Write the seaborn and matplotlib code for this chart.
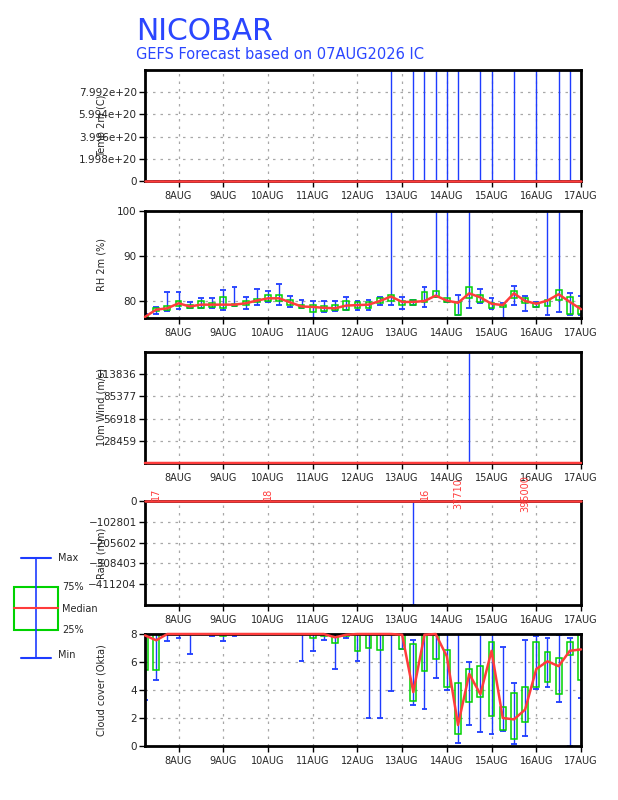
import numpy as np
import pandas as pd
import seaborn as sns
import matplotlib
matplotlib.use("Agg")
import matplotlib.pyplot as plt
import matplotlib.dates as mdates

sns.set_theme(style="white")
plt.rcParams['font.family'] = ['DejaVu Sans']

# 6-hourly forecast steps, 07AUG 06Z .. 17AUG 00Z
times = pd.date_range("2026-08-07 06:00", "2026-08-17 00:00", freq="6h")
day_ticks = pd.date_range("2026-08-08", "2026-08-17", freq="D")
day_labels = ["8AUG", "9AUG", "10AUG", "11AUG", "12AUG",
              "13AUG", "14AUG", "15AUG", "16AUG", "17AUG"]

# Temp 2m (C) -- a few members carry huge junk values
t2m_min = [26.1, 25.9, 26.6, 27.0, 26.4, 26.0, 26.7, 27.1, 26.5, 26.1, 26.8, 27.2, 26.6, 26.2,
           26.8, 27.1, 26.5, 26.1, 26.7, 27.0, 26.4, 26.0, 26.6, 26.9, 26.3, 25.9, 26.4, 26.7,
           26.1, 25.8, 26.2, 26.6, 26.0, 25.7, 26.3, 26.6, 26.1, 25.8, 26.3, 26.6]
t2m_med = [27.2, 27.0, 28.1, 28.4, 27.6, 27.1, 28.0, 28.5, 27.7, 27.2, 28.1, 28.6, 27.8, 27.3,
           28.0, 28.4, 27.7, 27.3, 28.0, 28.3, 27.6, 27.2, 27.9, 28.2, 27.5, 27.1, 27.6, 27.9,
           27.3, 27.0, 27.4, 27.8, 27.2, 26.9, 27.5, 27.9, 27.3, 27.0, 27.6, 27.9]
t2m_max = [28.3, 28.1, 29.2, 29.6, 28.7, 28.2, 29.1, 29.7, 28.8, 28.3, 29.2, 29.8, 28.9, 28.4,
           29.1, 29.5, 28.8, 28.4, 29.1, 29.4, 28.7, 28.3, 9.99e20, 29.3, 9.99e20, 9.99e20,
           9.99e20, 9.99e20, 9.99e20, 28.1, 9.99e20, 9.99e20, 28.3, 9.99e20, 28.6, 9.99e20,
           28.4, 9.99e20, 9.99e20, 29.0]

# RH 2m (%)
rh_min = [76.35, 77.3, 78.0, 78.3, 78.6, 78.5, 78.6, 78.1, 78.9, 78.3, 79.2, 79.9, 79.2, 78.8,
          78.5, 76.3, 77.6, 78.0, 78.1, 78.2, 78.1, 79.2, 79.3, 78.3, 79.3, 78.8, 80.9, 79.8,
          77.1, 78.5, 79.6, 78.3, 76.3, 79.2, 78.0, 78.7, 77.0, 77.7, 77.1, 77.0]
rh_q1 = [76.4, 77.8, 78.1, 78.9, 78.6, 78.5, 78.8, 78.6, 78.9, 79.2, 79.8, 80.1, 80.1, 79.3,
         78.5, 77.7, 78.0, 78.2, 78.2, 78.5, 78.5, 79.6, 80.2, 79.2, 79.3, 79.8, 81.1, 79.8,
         77.1, 80.7, 79.8, 78.5, 78.7, 80.8, 79.6, 78.7, 79.1, 80.4, 77.3, 77.2]
rh_med = [76.6, 78.2, 78.5, 79.6, 78.9, 79.3, 79.3, 79.3, 79.3, 79.6, 80.2, 80.7, 80.7, 79.8,
          78.9, 78.8, 78.6, 78.5, 79.1, 79.2, 79.3, 80.1, 81.1, 79.9, 79.9, 80.1, 81.3, 80.2,
          79.7, 81.8, 80.9, 79.5, 79.2, 81.8, 80.1, 79.5, 80.2, 81.6, 79.9, 78.3]
rh_q3 = [77.0, 78.5, 79.1, 80.1, 79.2, 80.0, 79.6, 81.0, 79.4, 80.1, 80.5, 81.4, 81.4, 80.3,
         79.3, 79.3, 79.1, 79.3, 80.0, 79.8, 79.8, 80.7, 81.5, 80.2, 80.3, 82.0, 82.3, 80.7,
         79.9, 83.3, 81.4, 79.7, 79.3, 82.3, 80.7, 79.6, 80.4, 82.6, 81.0, 79.1]
rh_max = [77.2, 78.7, 82.0, 82.2, 79.8, 80.7, 80.7, 82.5, 83.1, 80.9, 82.8, 82.4, 83.9, 81.2,
          80.3, 80.1, 80.1, 80.0, 81.1, 80.2, 80.4, 81.1, 100.0, 81.0, 80.4, 83.1, 100.0, 100.0,
          81.4, 100.0, 82.7, 80.7, 79.6, 83.4, 81.2, 79.9, 100.0, 100.0, 81.8, 81.3]

# 10m Wind (m/s)
wind_min = [2.1, 2.4, 2.0, 1.8, 2.2, 2.5, 2.1, 1.9, 2.3, 2.6, 2.2, 2.0, 2.4, 2.7, 2.3, 2.1,
            2.5, 2.8, 2.4, 2.2, 2.6, 2.9, 2.5, 2.3, 2.7, 3.0, 2.6, 2.4, 2.8, 3.1, 2.7, 2.5,
            2.9, 3.2, 2.8, 2.6, 3.0, 3.3, 2.9, 2.7]
wind_med = [4.6, 4.9, 4.4, 4.2, 4.7, 5.0, 4.5, 4.3, 4.8, 5.1, 4.6, 4.4, 4.9, 5.2, 4.7, 4.5,
            5.0, 5.3, 4.8, 4.6, 5.1, 5.4, 4.9, 4.7, 5.2, 5.5, 5.0, 4.8, 5.3, 5.6, 5.1, 4.9,
            5.4, 5.7, 5.2, 5.0, 5.5, 5.8, 5.3, 5.1]
wind_max = [7.4, 7.8, 7.1, 6.9, 7.5, 7.9, 7.2, 7.0, 7.6, 8.0, 7.3, 7.1, 7.7, 8.1, 7.4, 7.2,
            7.8, 8.2, 7.5, 7.3, 7.9, 8.3, 7.6, 7.4, 8.0, 8.4, 7.7, 7.5, 8.1, 142295.0, 7.8, 7.6,
            8.2, 8.6, 7.9, 7.7, 8.3, 8.7, 8.0, 7.8]

# Rain (mm)
rain_min = [0.0, 0.0, 0.0, 0.0, 0.0, 0.0, 0.0, 0.0, 0.0, 0.0, 0.0, 0.0, 0.0, 0.0, 0.0, 0.0,
            0.0, 0.0, 0.0, 0.0, 0.0, 0.0, 0.0, 0.0, -514005.0, 0.0, 0.0, 0.0, 0.0, 0.0, 0.0, 0.0,
            0.0, 0.0, 0.0, 0.0, 0.0, 0.0, 0.0, 0.0]
rain_med = [0.4, 0.6, 0.3, 0.2, 0.5, 0.7, 0.4, 0.3, 0.6, 0.8, 0.5, 0.4, 0.7, 0.9, 0.6, 0.5,
            0.8, 1.0, 0.7, 0.6, 0.9, 1.1, 0.8, 0.7, 1.0, 1.2, 0.9, 0.8, 1.1, 1.3, 1.0, 0.9,
            1.2, 1.4, 1.1, 1.0, 1.3, 1.5, 1.2, 1.1]
rain_max = [5.2, 6.1, 4.8, 4.0, 5.5, 6.4, 5.0, 4.3, 5.8, 6.7, 5.3, 4.6, 6.1, 7.0, 5.6, 4.9,
            6.4, 7.3, 5.9, 5.2, 6.7, 7.6, 6.2, 5.5, 7.0, 7.9, 6.5, 5.8, 7.3, 8.2, 6.8, 6.1,
            7.6, 8.5, 7.1, 6.4, 7.9, 8.8, 7.4, 6.7]
rain_note_idx = [1, 11, 25, 28, 34]
rain_notes = ["17", "18", "16", "37710", "395000"]

# Cloud cover (Okta)
cld_min = [3.3, 4.75, 7.5, 7.7, 6.55, 8.0, 7.83, 7.5, 7.83, 8.0, 8.0, 8.0, 8.0, 8.0,
           6.07, 6.76, 7.57, 5.5, 7.7, 6.07, 2.03, 2.03, 3.96, 6.9, 2.96, 2.67, 4.89, 4.0,
           0.24, 1.53, 1.03, 0.84, 1.07, 0.17, 0.74, 4.1, 4.25, 3.17, 0.0, 3.41]
cld_q1 = [5.4, 5.4, 8.0, 8.0, 8.0, 8.0, 8.0, 7.83, 8.0, 8.0, 8.0, 8.0, 8.0, 8.0,
          8.0, 7.69, 7.88, 7.33, 7.85, 6.78, 7.02, 6.83, 7.93, 6.92, 3.25, 5.39, 6.18, 4.25,
          0.88, 3.17, 3.53, 2.17, 1.17, 0.53, 1.74, 4.18, 4.6, 3.75, 6.49, 4.75]
cld_med = [7.9, 7.55, 8.0, 8.0, 8.0, 8.0, 8.0, 8.0, 8.0, 8.0, 8.0, 8.0, 8.0, 8.0,
           8.0, 8.0, 8.0, 7.76, 7.95, 8.0, 8.0, 8.0, 8.0, 7.95, 3.85, 7.95, 8.0, 6.4,
           1.5, 5.15, 3.7, 6.8, 2.0, 1.9, 2.6, 5.5, 6.05, 5.7, 6.8, 6.9]
cld_q3 = [8.0, 8.0, 8.0, 8.0, 8.0, 8.0, 8.0, 8.0, 8.0, 8.0, 8.0, 8.0, 8.0, 8.0,
          8.0, 8.0, 8.0, 8.0, 8.0, 8.0, 8.0, 8.0, 8.0, 8.0, 7.26, 8.0, 8.0, 6.85,
          4.53, 5.47, 5.68, 7.4, 2.77, 3.82, 4.2, 7.4, 6.68, 6.32, 7.4, 8.0]
cld_max = [8.0, 8.0, 8.0, 8.0, 8.0, 8.0, 8.0, 8.0, 8.0, 8.0, 8.0, 8.0, 8.0, 8.0,
           8.0, 8.0, 8.0, 8.0, 8.0, 8.0, 8.0, 8.0, 8.0, 8.0, 7.57, 8.0, 8.0, 8.0,
           8.0, 5.97, 8.0, 8.0, 7.04, 4.53, 7.57, 7.83, 7.68, 7.92, 7.68, 8.0]

BLUE = "#1e3cff"
GREEN = "#00d200"
RED = "#ff3c3c"
GRID = "#a8a8a8"

x = mdates.date2num(times)
xt = mdates.date2num(day_ticks)

fig = plt.figure(figsize=(6.18, 8), dpi=100)

W, H = 618.0, 800.0
L, R = 145, 581


def panel(top, bottom, vmin, med, vmax, ylim, yticks, yticklabels, ylabel, q1=None, q3=None):
    ax = fig.add_axes([L / W, 1 - bottom / H, (R - L) / W, (bottom - top) / H])
    cap = 0.065
    ax.vlines(x, vmin, vmax, color=BLUE, lw=1.0, zorder=2)
    ax.hlines(vmin, x - cap, x + cap, color=BLUE, lw=1.3, zorder=2)
    ax.hlines(vmax, x - cap, x + cap, color=BLUE, lw=1.3, zorder=2)
    if q1 is not None:
        ax.bar(x, np.array(q3) - np.array(q1), bottom=q1, width=0.13, fill=False,
               edgecolor=GREEN, linewidth=1.1, zorder=2.2)
    sns.lineplot(x=x, y=med, color=RED, lw=1.8, ax=ax, zorder=3, clip_on=False)
    ax.set_xlim(mdates.date2num(times[0]), mdates.date2num(times[-1]))
    ax.set_ylim(*ylim)
    ax.set_xticks(xt)
    ax.set_xticklabels(day_labels)
    ax.set_yticks(yticks)
    ax.set_yticklabels(yticklabels)
    ax.grid(True, color=GRID, linestyle=(0, (2, 4)), lw=0.9)
    ax.tick_params(axis='both', direction='out', length=4, width=1, color='black',
                   bottom=True, left=True, pad=2)
    ax.tick_params(axis='x', labelsize=7, pad=3)
    ax.tick_params(axis='y', labelsize=7.5)
    for s in ax.spines.values():
        s.set_linewidth(2)
        s.set_color('black')
    ax.set_xlabel('')
    ax.set_ylabel(ylabel, fontsize=7)
    ax.yaxis.set_label_coords(-38 / (R - L), 0.5)
    return ax


panel(70, 181, t2m_min, t2m_med, t2m_max, (0, 9.99e20),
      [0, 1.998e20, 3.996e20, 5.994e20, 7.992e20],
      ["0", "1.998e+20", "3.996e+20", "5.994e+20", "7.992e+20"], "Temp 2m (C)")

panel(211, 318, rh_min, rh_med, rh_max, (76.35, 100), [80, 90, 100],
      ["80", "90", "100"], "RH 2m (%)", rh_q1, rh_q3)

panel(352, 463, wind_min, wind_med, wind_max, (0, 142295),
      [28459, 56918, 85377, 113836], ["28459", "56918", "85377", "113836"],
      "10m Wind (m/s)")

ax4 = panel(501, 605, rain_min, rain_med, rain_max, (-514005, 0),
            [0, -102801, -205602, -308403, -411204],
            ["0", "\u2212102801", "\u2212205602", "\u2212308403", "\u2212411204"], "Rain (mm)")
for i, note in zip(rain_note_idx, rain_notes):
    ax4.text(x[i], 1.07, note, transform=ax4.get_xaxis_transform(), rotation=90,
             color=RED, fontsize=7, ha='center', va='center', clip_on=False)

panel(634, 746, cld_min, cld_med, cld_max, (0, 8), [0, 2, 4, 6, 8],
      ["0", "2", "4", "6", "8"], "Cloud cover (Okta)", cld_q1, cld_q3)

# titles
fig.text(136 / W, 1 - 39.5 / H, "NICOBAR", color="#2a46ff", fontsize=21.5,
         ha='left', va='baseline')
fig.text(136 / W, 1 - 59 / H, "GEFS Forecast based on 07AUG2026 IC", color="#2a46ff",
         fontsize=10.5, ha='left', va='baseline')

# box legend on the left
lax = fig.add_axes([0, 0, 1, 1], facecolor='none')
lax.set_xlim(0, W)
lax.set_ylim(H, 0)
lax.axis('off')
lax.plot([36, 36], [558, 658], color=BLUE, lw=1.2)
lax.plot([21, 51], [558, 558], color=BLUE, lw=1.5)
lax.plot([21, 51], [658, 658], color=BLUE, lw=1.5)
lax.add_patch(plt.Rectangle((14, 587), 44, 43, fill=False, edgecolor=GREEN, lw=1.5))
lax.plot([14, 58], [608, 608], color=RED, lw=1.5)
for tx, ty, s in [(58, 558, "Max"), (62, 587, "75%"), (62, 609, "Median"),
                  (62, 630, "25%"), (58, 655, "Min")]:
    lax.text(tx, ty, s, fontsize=7, ha='left', va='center')

fig.savefig("out.png", dpi=100)
